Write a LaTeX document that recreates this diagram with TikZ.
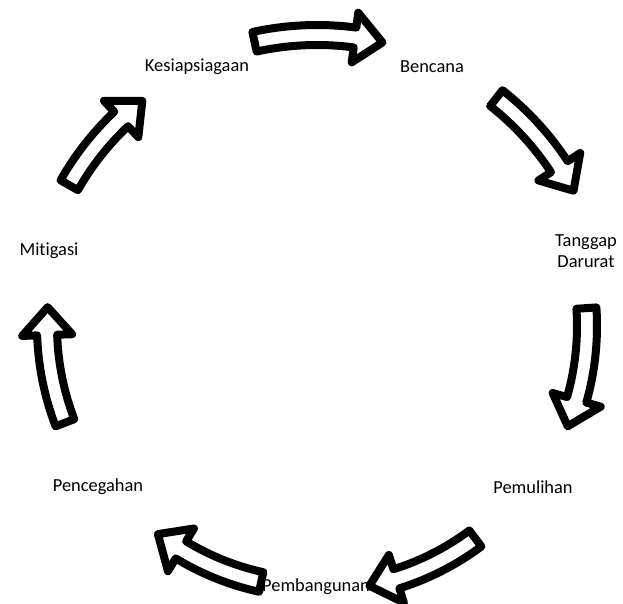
\documentclass[tikz,border=0pt]{standalone}
\usepackage{fontspec}
\setmainfont{Carlito}[Ligatures=NoCommon]
\usetikzlibrary{positioning}

% curved block arrow around (ctr): radius, from angle, to angle (clockwise)
\newcommand{\cyclearrow}[3]{%
  \pgfmathsetmacro{\headang}{#3+1600/#1}
  \fill[shade] (#2:#1+10) arc[start angle=#2, end angle=\headang, radius=#1+10]
    -- (\headang:#1+25) -- (#3:#1) -- (\headang:#1-25) -- (\headang:#1-10)
    arc[start angle=\headang, end angle=#2, radius=#1-10] -- cycle;
  \draw[blockarrow] (#2:#1+10) arc[start angle=#2, end angle=\headang, radius=#1+10]
    -- (\headang:#1+25) -- (#3:#1) -- (\headang:#1-25) -- (\headang:#1-10)
    arc[start angle=\headang, end angle=#2, radius=#1-10] -- cycle;
}

\begin{document}
\begin{tikzpicture}[x=1bp, y=1bp,
        phase/.style={align=center, inner sep=0pt, font=\fontsize{18.4bp}{21bp}\selectfont},
        blockarrow/.style={draw=black, fill=white, line width=8bp, line join=round},
        shade/.style={black, opacity=0.12, shift={(2,-3)}}
    ]
    \useasboundingbox (0,0) rectangle (623,604);
    \coordinate (ctr) at (317,278);

    % phases of the cycle
    \node[phase] (kesiap) at (197,537) {Kesiapsiagaan};
    \node[phase] (bencana) at (432,537) {Bencana};
    \node[phase] (tanggap) at (586,353) {Tanggap\\Darurat};
    \node[phase] (pulih) at (533,117) {Pemulihan};
    \node[phase] (bangun) at (316,17) {Pembangunan};
    \node[phase] (cegah) at (98,117) {Pencegahan};
    \node[phase] (mitigasi) at (49,353) {Mitigasi};

    % arrows between phases
    \begin{scope}[shift={(ctr)}]
        \cyclearrow{291}{102.4}{77}
        \cyclearrow{290}{51.8}{27.8}
        \cyclearrow{270}{3.8}{-21.8}
        \cyclearrow{265}{-53.3}{-78.6}
        \cyclearrow{262}{-102.3}{-127.4}
        \cyclearrow{270}{-159}{-184}
        \cyclearrow{285}{-209.6}{-232.2}
    \end{scope}
\end{tikzpicture}
\end{document}
